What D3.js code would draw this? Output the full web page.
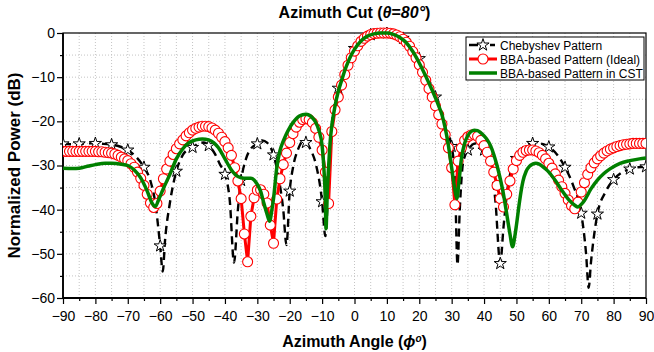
<!DOCTYPE html>
<html>
<head>
<meta charset="utf-8">
<script src="https://cdn.jsdelivr.net/npm/d3@7"></script>
<style>
body { margin: 0; background: #fff; }
svg { display: block; font-family: Arial, "Liberation Sans", sans-serif; }
.grid line { stroke: #c4c4c4; stroke-width: 1; stroke-dasharray: 1,2; }
.axis text { font-size: 14px; fill: #000; }
.axis line { stroke: #000; stroke-width: 1.2; }
</style>
</head>
<body>
<script>
// tick labels
var xTickLabels = [-90,-80,-70,-60,-50,-40,-30,-20,-10,0,10,20,30,40,50,60,70,80,90];
var yTickLabels = [0,-10,-20,-30,-40,-50,-60];

// Chebyshev pattern (black dashed, stars on multiples of 5 deg)
var chebAngles = [-90,-87.5,-85,-82.5,-80,-77.5,-75,-72.5,-70,-67.5,-65,-63,-61.5,-60,-59.2,-58.5,-57,-55,-53,-51,-50,-48,-46.5,-45,-43,-41.5,-40,-38.5,-37.2,-36,-35,-33.5,-32,-30,-28.5,-27,-25,-23.5,-22,-21,-20,-19,-17.5,-16,-15,-13.5,-12,-10,-9,-8.4,-7.5,-6.5,-5,-4,-2,0,2,5,8,10,12,15,18,20,22,24,25,26,28,30,31,31.8,32.5,33.5,35,37.5,40,42,43.5,45,46,47.5,50,52.5,55,57,60,62.5,65,67.5,70,71.5,72.3,73,75,77.5,80,82.5,85,87.5,90];
var chebValues = [-25.1,-25.2,-25.1,-25.0,-25.0,-25.1,-25.3,-25.7,-26.5,-28.0,-30.4,-33.5,-38.5,-48.2,-54,-47,-38.5,-31.3,-27.6,-26.2,-25.9,-25.0,-24.8,-25.5,-27.5,-29.8,-32,-38,-52,-40,-33.4,-28.5,-26.2,-25.1,-24.3,-24.8,-27.6,-32.5,-40,-48,-35.8,-30.5,-26.5,-24.6,-24.8,-26.5,-29.5,-38.2,-46,-40,-25.5,-17.8,-12.5,-10.2,-6.2,-3.5,-1.6,-0.4,0,0,-0.2,-1.2,-3.6,-5.8,-8.8,-12.5,-14.5,-17,-21.5,-25.7,-33,-52.5,-40,-29.5,-26.5,-25.0,-26.5,-30,-38,-52.2,-44,-34,-28.4,-25.6,-25.0,-25.0,-25.8,-27.5,-30.4,-34.5,-40.8,-50,-57.7,-52,-41,-36,-33.2,-31.6,-30.8,-30.4,-30.3];

// BBA-based pattern (ideal), one value per degree from -90 to 90
var idealStart = -90;
var idealValues = [
  -26.8,-26.8,-26.8,-26.8,-26.8,-26.8,-26.8,-26.8,-26.8,-26.8,-26.8,
  -26.9,-26.9,-27.0,-27.1,-27.2,-27.4,-27.7,-28.1,-28.5,-28.9,
  -29.6,-30.4,-31.5,-32.9,-34.5,-36.5,-38.5,-39.5,-38.6,-35.8,
  -33.0,-30.8,-29.0,-27.5,-26.2,-25.1,-24.2,-23.3,-22.6,-22.0,
  -21.6,-21.3,-21.1,-21.1,-21.2,-21.5,-22.0,-22.7,-23.6,-24.6,
  -26.0,-27.7,-30.5,-33.5,-37.5,-45.5,-51.8,-41.5,-37.3,-35.6,
  -35.5,-36.5,-38.5,-43.5,-47.6,-37.6,-33.0,-29.8,-27.2,-24.8,
  -22.8,-21.3,-20.2,-19.6,-19.4,-19.6,-20.3,-21.6,-23.6,-26.5,
  -31.5,-38.6,-22.3,-17.4,-14.5,-11.8,-9.4,-7.3,-5.6,-4.1,
  -2.9,-1.9,-1.2,-0.7,-0.35,-0.15,-0.05,0,0,0,
  -0.05,-0.2,-0.45,-0.85,-1.4,-2.1,-3.0,-4.2,-5.6,-7.2,
  -8.9,-10.7,-12.6,-14.5,-16.5,-18.5,-20.6,-23.0,-26.0,-30.5,
  -38.9,-29.0,-26.0,-24.3,-23.5,-23.1,-23.0,-23.4,-24.3,-25.5,
  -27.0,-29.0,-31.5,-34.5,-37.5,-39.4,-36.5,-33.5,-30.8,-28.9,
  -27.7,-27.0,-26.6,-26.5,-26.5,-26.7,-27.1,-27.7,-28.5,-29.5,
  -30.6,-31.9,-33.3,-34.8,-36.3,-37.8,-39.1,-39.8,-38.3,-36.0,
  -33.9,-32.0,-30.5,-29.4,-28.5,-27.8,-27.2,-26.7,-26.3,-26.0,
  -25.7,-25.5,-25.3,-25.2,-25.1,-25.0,-25.0,-25.0,-25.0,-25.0
];

// BBA-based pattern in CST (green)
var cstAngles = [-90,-87,-85,-82,-80,-77,-75,-72,-70,-68,-66,-64,-62.5,-61.5,-60.5,-59,-57,-55,-53,-51,-49,-47,-45,-43.5,-42,-40,-38,-36,-34,-32,-31,-30,-29,-28,-27,-26.2,-25.5,-25,-24,-23,-22,-21,-20,-19,-18,-17,-16,-15,-14,-13,-12,-11,-10,-9.5,-9,-8.8,-8.4,-8,-7.5,-7,-6,-5,-4,-3,-2,-1,0,2,4,6,8,10,12,14,16,18,20,22,24,26,27,28,29,30,31,31.6,32.2,33,34,35,36,37,38,39,40,41,42,43,44,45,46,47,48,48.8,49.5,50,51,52,53,54,55,56,57,58,59,60,62,64,66,68,69,70,71,73,75,77,79,82,85,88,90];
var cstValues = [-30.6,-30.7,-30.6,-30.1,-29.8,-29.5,-29.5,-29.7,-30.0,-31.0,-32.8,-35.8,-38.5,-39.3,-37.8,-35.2,-32.0,-28.5,-26.2,-24.8,-24.2,-24.0,-24.2,-24.8,-26.0,-28.5,-31.0,-32.5,-32.9,-32.9,-33.3,-34.3,-35.8,-38.5,-41.0,-42.6,-40.0,-37.5,-30.5,-26.6,-24.5,-22.8,-21.4,-20.3,-19.4,-18.8,-18.5,-18.4,-18.6,-19.2,-20.2,-22.0,-25.5,-30,-38,-44.3,-36,-30.5,-24.5,-21,-16.5,-13.2,-10.8,-8.5,-6.6,-5.0,-3.7,-1.8,-0.7,-0.2,0,0,-0.3,-1.0,-2.2,-4.2,-6.8,-9.8,-13.0,-16.5,-18.5,-21.5,-25.5,-30.5,-35.5,-37.5,-34,-28.5,-25,-23.2,-22.3,-22.0,-22.1,-22.6,-23.3,-24.2,-25.5,-27.5,-30.0,-33.0,-36.5,-41.0,-45.5,-48.4,-46,-43.5,-37.9,-33.6,-31.3,-30.2,-29.7,-29.5,-29.7,-30.2,-30.8,-31.5,-33.4,-35.6,-37.6,-39.0,-39.4,-38.8,-37.9,-35.3,-33.3,-31.8,-30.7,-29.5,-28.9,-28.5,-28.3];

var W = 654, H = 352;
var margin = {top: 33, right: 8, bottom: 54, left: 63};

var svg = d3.select("body").append("svg")
  .attr("width", W).attr("height", H);

var x = d3.scaleLinear().domain([-90, 90]).range([margin.left, W - margin.right]);
var y = d3.scaleLinear().domain([-60, 0]).range([H - margin.bottom, margin.top]);

// grid
var grid = svg.append("g").attr("class", "grid");
grid.selectAll(".gx").data(d3.range(-85, 90, 5)).enter().append("line")
  .attr("x1", d => x(d)).attr("x2", d => x(d))
  .attr("y1", y(0)).attr("y2", y(-60));
grid.selectAll(".gy").data(d3.range(-55, 0, 5)).enter().append("line")
  .attr("x1", x(-90)).attr("x2", x(90))
  .attr("y1", d => y(d)).attr("y2", d => y(d));

// axes
var xAxis = svg.append("g").attr("class", "axis")
  .attr("transform", "translate(0," + y(-60) + ")")
  .call(d3.axisBottom(x).tickValues(xTickLabels).tickSize(6).tickPadding(7));
xAxis.select(".domain").remove();
var xMinor = svg.append("g").attr("class", "axis")
  .attr("transform", "translate(0," + y(-60) + ")")
  .call(d3.axisBottom(x).tickValues(d3.range(-85, 90, 10)).tickSize(3).tickFormat(""));
xMinor.select(".domain").remove();

var yAxis = svg.append("g").attr("class", "axis")
  .attr("transform", "translate(" + x(-90) + ",0)")
  .call(d3.axisLeft(y).tickValues(yTickLabels).tickSize(6).tickPadding(2));
yAxis.select(".domain").remove();
var yMinor = svg.append("g").attr("class", "axis")
  .attr("transform", "translate(" + x(-90) + ",0)")
  .call(d3.axisLeft(y).tickValues(d3.range(-55, 0, 10)).tickSize(3).tickFormat(""));
yMinor.select(".domain").remove();

// frame
svg.append("rect")
  .attr("x", x(-90)).attr("y", y(0))
  .attr("width", x(90) - x(-90)).attr("height", y(-60) - y(0))
  .attr("fill", "none").attr("stroke", "#000").attr("stroke-width", 1.2);
svg.append("line")
  .attr("x1", x(-90)).attr("x2", x(90)).attr("y1", y(-60)).attr("y2", y(-60))
  .attr("stroke", "#000").attr("stroke-width", 1.8);
svg.append("line")
  .attr("x1", x(-90)).attr("x2", x(-90)).attr("y1", y(0)).attr("y2", y(-60))
  .attr("stroke", "#000").attr("stroke-width", 1.8);

svg.append("clipPath").attr("id", "plotclip").append("rect")
  .attr("x", x(-90)).attr("y", y(0) - 6)
  .attr("width", x(90) - x(-90)).attr("height", y(-60) - y(0) + 6);

var plot = svg.append("g").attr("clip-path", "url(#plotclip)");

var cheb = chebAngles.map((a, i) => [a, chebValues[i]]);
var ideal = idealValues.map((v, i) => [idealStart + i, v]);
var cst = cstAngles.map((a, i) => [a, cstValues[i]]);

var smooth = d3.line().x(d => x(d[0])).y(d => y(d[1])).curve(d3.curveMonotoneX);
var straight = d3.line().x(d => x(d[0])).y(d => y(d[1]));

var star = d3.symbol().type(d3.symbolStar).size(46);

// Chebyshev
plot.append("path").datum(cheb)
  .attr("d", smooth)
  .attr("fill", "none").attr("stroke", "#000")
  .attr("stroke-width", 2.4).attr("stroke-dasharray", "8,5");
plot.selectAll(".star").data(cheb.filter(d => d[0] % 5 === 0)).enter().append("path")
  .attr("d", star)
  .attr("transform", d => "translate(" + x(d[0]) + "," + y(d[1]) + ")")
  .attr("fill", "#fff").attr("stroke", "#000").attr("stroke-width", 1);

// ideal BBA
plot.append("path").datum(ideal)
  .attr("d", straight)
  .attr("fill", "none").attr("stroke", "#ff0000").attr("stroke-width", 3);
plot.selectAll(".circ").data(ideal).enter().append("circle")
  .attr("cx", d => x(d[0])).attr("cy", d => y(d[1])).attr("r", 5)
  .attr("fill", "#fff").attr("stroke", "#ff0000").attr("stroke-width", 1.1);

// CST
plot.append("path").datum(cst)
  .attr("d", smooth)
  .attr("fill", "none").attr("stroke", "#008000").attr("stroke-width", 3.5);

// legend
var lg = svg.append("g");
lg.append("rect").attr("x", 466).attr("y", 37).attr("width", 178).attr("height", 43)
  .attr("fill", "#fff").attr("stroke", "#000").attr("stroke-width", 1);
var rows = [45, 59, 73];
lg.append("line").attr("x1", 469).attr("x2", 478).attr("y1", rows[0]).attr("y2", rows[0])
  .attr("stroke", "#000").attr("stroke-width", 2.5);
lg.append("line").attr("x1", 490).attr("x2", 495).attr("y1", rows[0]).attr("y2", rows[0])
  .attr("stroke", "#000").attr("stroke-width", 2.5);
lg.append("path").attr("d", star).attr("transform", "translate(483," + rows[0] + ")")
  .attr("fill", "#fff").attr("stroke", "#000").attr("stroke-width", 1);
lg.append("line").attr("x1", 469).attr("x2", 497).attr("y1", rows[1]).attr("y2", rows[1])
  .attr("stroke", "#ff0000").attr("stroke-width", 3);
lg.append("circle").attr("cx", 483).attr("cy", rows[1]).attr("r", 5)
  .attr("fill", "#fff").attr("stroke", "#ff0000").attr("stroke-width", 1.1);
lg.append("line").attr("x1", 469).attr("x2", 497).attr("y1", rows[2]).attr("y2", rows[2])
  .attr("stroke", "#008000").attr("stroke-width", 3.5);
var names = ["Chebyshev Pattern", "BBA-based Pattern (Ideal)", "BBA-based Pattern in CST"];
lg.selectAll(".lt").data(names).enter().append("text")
  .attr("x", 500).attr("y", (d, i) => rows[i] + 4.5)
  .attr("font-size", "12px").text(d => d);

// title
var title = svg.append("text").attr("x", (x(-90) + x(90)) / 2).attr("y", 18)
  .attr("text-anchor", "middle").attr("font-size", "16px").attr("font-weight", "bold");
title.append("tspan").text("Azimuth Cut (");
title.append("tspan").attr("font-style", "italic").text("θ");
title.append("tspan").text("=");
title.append("tspan").attr("font-style", "italic").text("80°");
title.append("tspan").text(")");

// axis titles
var xt = svg.append("text").attr("x", (x(-90) + x(90)) / 2).attr("y", 347)
  .attr("text-anchor", "middle").attr("font-size", "16px").attr("font-weight", "bold");
xt.append("tspan").text("Azimuth Angle (");
xt.append("tspan").attr("font-style", "italic").text("ϕ");
xt.append("tspan").attr("font-style", "italic").attr("font-size", "10px").attr("dy", "-5").text("o");
xt.append("tspan").attr("dy", "5").text(")");

svg.append("text")
  .attr("transform", "translate(20," + (y(-30)) + ") rotate(-90)")
  .attr("text-anchor", "middle").attr("font-size", "17px").attr("font-weight", "bold")
  .text("Normalized Power (dB)");
</script>
</body>
</html>
